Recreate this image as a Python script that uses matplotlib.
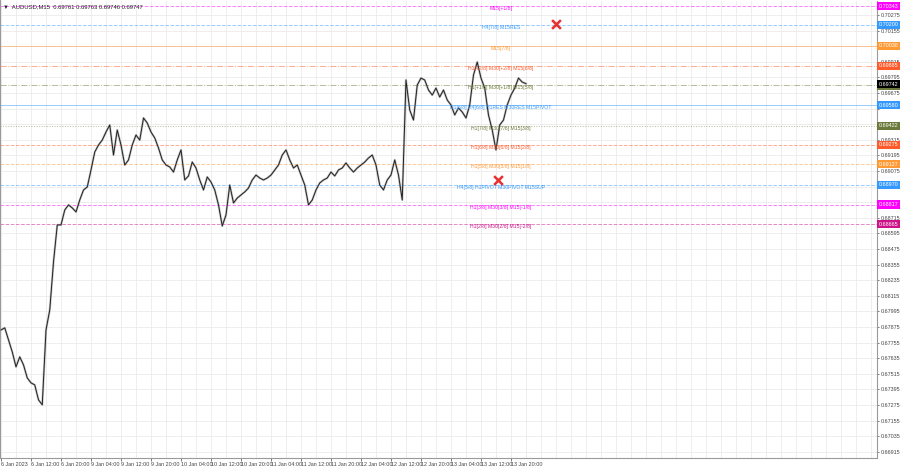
import matplotlib
matplotlib.use('Agg')
import matplotlib.pyplot as plt
import matplotlib.transforms as mtransforms
from matplotlib.ticker import MultipleLocator

plt.rcParams['font.family'] = ['Liberation Sans', 'DejaVu Sans']

# hourly closes of AUDUSD (6 Jan 04:00 -> 13 Jan 23:00, trading hours only)
closes = [
    0.67852, 0.67868, 0.67775, 0.67683, 0.67568, 0.67645, 0.67583, 0.67483, 0.67445, 0.67429,
    0.67314, 0.67276, 0.67852, 0.68006, 0.68375, 0.68660, 0.68660, 0.68775, 0.68814, 0.68791,
    0.68760, 0.68852, 0.68929, 0.68952, 0.69083, 0.69221, 0.69275, 0.69313, 0.69375, 0.69429,
    0.69198, 0.69390, 0.69275, 0.69121, 0.69160, 0.69275, 0.69352, 0.69313, 0.69483, 0.69444,
    0.69375, 0.69329, 0.69252, 0.69160, 0.69121, 0.69106, 0.69067, 0.69160, 0.69237, 0.69006,
    0.69037, 0.69144, 0.69098, 0.69006, 0.68929, 0.69029, 0.68990, 0.68929, 0.68814, 0.68652,
    0.68737, 0.68967, 0.68829, 0.68867, 0.68890, 0.68914, 0.68944, 0.69006, 0.69044, 0.69021,
    0.69006, 0.69021, 0.69044, 0.69083, 0.69121, 0.69198, 0.69237, 0.69160, 0.69098, 0.69121,
    0.69044, 0.68967, 0.68814, 0.68852, 0.68929, 0.68983, 0.69006, 0.69021, 0.69067, 0.69037,
    0.69083, 0.69098, 0.69137, 0.69098, 0.69067, 0.69098, 0.69121, 0.69144, 0.69175, 0.69198,
    0.69121, 0.68967, 0.68929, 0.69006, 0.69044, 0.69160, 0.69044, 0.68852, 0.69775, 0.69544,
    0.69467, 0.69736, 0.69790, 0.69775, 0.69698, 0.69659, 0.69713, 0.69644, 0.69698, 0.69621,
    0.69583, 0.69506, 0.69560, 0.69529, 0.69483, 0.69583, 0.69813, 0.69913, 0.69790, 0.69713,
    0.69506, 0.69390, 0.69237, 0.69429, 0.69467, 0.69583, 0.69659, 0.69713, 0.69790, 0.69759,
    0.69747,
]
hours = list(range(len(closes)))

tick_hours = [0, 8, 16, 24, 32, 40, 48, 56, 64, 72, 80, 88, 96, 104, 112, 120, 128, 136]
tick_labels = ['6 Jan 2023', '6 Jan 12:00', '6 Jan 20:00', '9 Jan 04:00', '9 Jan 12:00',
               '9 Jan 20:00', '10 Jan 04:00', '10 Jan 12:00', '10 Jan 20:00', '11 Jan 04:00',
               '11 Jan 12:00', '11 Jan 20:00', '12 Jan 04:00', '12 Jan 12:00', '12 Jan 20:00',
               '13 Jan 04:00', '13 Jan 12:00', '13 Jan 20:00']

price_ticks = [0.66915, 0.67035, 0.67155, 0.67275, 0.67395, 0.67515, 0.67635, 0.67755,
               0.67875, 0.67995, 0.68115, 0.68235, 0.68355, 0.68475, 0.68595, 0.68715,
               0.68835, 0.68955, 0.69075, 0.69195, 0.69315, 0.69435, 0.69555, 0.69675,
               0.69795, 0.69915, 0.70035, 0.70155, 0.70275]
# these scale labels sit under a level tag in the terminal
hidden_ticks = [0.68955, 0.69435, 0.69555, 0.70035]

# murrey math levels
level_prices = [0.70343, 0.70200, 0.70038, 0.69885, 0.69733, 0.69580, 0.69422,
                0.69275, 0.69127, 0.68970, 0.68817, 0.68665]
level_labels = ['M15[+1/8]', 'H4[7/8] M15RES', 'M15[7/8]', 'H1[+2/8] M30[+2/8] M15[6/8]',
                'H1[+1/8] M30[+1/8] M15[5/8]', 'D1[6/8] H4[6/8] H1RES M30RES M15PIVOT',
                'H1[7/8] M30[7/8] M15[3/8]', 'H1[6/8] M30[6/8] M15[2/8]',
                'H1[5/8] M30[5/8] M15[1/8]', 'H4[5/8] H1PIVOT M30PIVOT M15SUP',
                'H1[3/8] M30[3/8] M15[-1/8]', 'H1[2/8] M30[2/8] M15[-2/8]']
level_colors = ['#ff00ff', '#3399ff', '#ff9933', '#ff5a2a', '#6b7a3a', '#3399ff',
                '#6b7a3a', '#ff5a2a', '#ff9933', '#3399ff', '#ff00ff', '#cc1488']
level_styles = ['--', '--', '-', '-.', '-.', '-', ':', '--', '--', '--', '--', '--']

cross_hours = [148, 132.5]
cross_prices = [0.70205, 0.69006]

last_price = 0.69742

fig = plt.figure(figsize=(9, 4.68), dpi=100)
ax = fig.add_axes([0.0, 0.0214, 0.9744, 0.9765])
ax.set_facecolor('white')

ax.set_xlim(-0.27, 233.6)
ax.set_ylim(0.66867, 0.70383)

# grid
ax.xaxis.set_minor_locator(MultipleLocator(4))
ax.set_xticks(tick_hours)
ax.set_xticklabels(tick_labels)
ax.set_yticks(price_ticks)
ax.set_yticklabels(['' if p in hidden_ticks else '%.5f' % p for p in price_ticks])
ax.grid(True, which='both', color='#ebebeb', linewidth=0.6)
ax.set_axisbelow(True)

ax.yaxis.tick_right()
ax.tick_params(axis='y', labelsize=3.9, colors='#444444', length=1.5, pad=1.5, width=0.5)
ax.tick_params(axis='x', labelsize=3.9, colors='#444444', length=2, pad=1.2, width=0.5)
ax.tick_params(axis='x', which='minor', length=0)
for lbl in ax.get_xticklabels():
    lbl.set_horizontalalignment('left')

ax.spines['top'].set_visible(False)
for side in ['left', 'right', 'bottom']:
    ax.spines[side].set_color('#9a9a9a')
    ax.spines[side].set_linewidth(0.8)
ax.spines['left'].set_linewidth(1.5)

# level lines + labels
trans_y = mtransforms.blended_transform_factory(ax.transAxes, ax.transData)
for p, lab, c, ls in zip(level_prices, level_labels, level_colors, level_styles):
    ax.axhline(p, color=c, linestyle=ls, linewidth=0.7, alpha=0.5, zorder=2)
    ax.text(133.3, p, lab, color=c, fontsize=3.7, ha='center', va='top', zorder=4)
    ax.text(1.002, p, '%.5f' % p, transform=trans_y, fontsize=3.9, color='white',
            ha='left', va='center', zorder=6, clip_on=False,
            bbox=dict(boxstyle='square,pad=0.3', fc=c, ec='none'))

# price
ax.plot(hours, closes, color='#9a9a9a', linewidth=1.6, alpha=0.6, zorder=3)
ax.plot(hours, closes, color='#222222', linewidth=0.7, zorder=3)

ax.text(1.002, last_price, '%.5f' % last_price, transform=trans_y, fontsize=3.9,
        color='white', ha='left', va='center', zorder=7, clip_on=False,
        bbox=dict(boxstyle='square,pad=0.3', fc='black', ec='none'))

ax.scatter(cross_hours, cross_prices, marker='x', color='#e83030', s=40, linewidths=1.8, zorder=5)

ax.text(0.003, 0.993, '\u25bc  AUDUSD,M15  0.69761 0.69763 0.69746 0.69747', transform=ax.transAxes,
        fontsize=4.2, color='#222222', ha='left', va='top', zorder=6)

fig.savefig('out.png', dpi=100)
